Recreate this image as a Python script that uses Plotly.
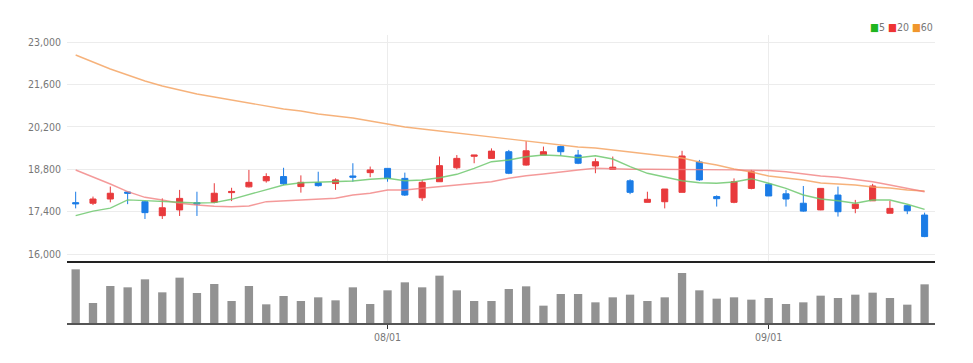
import plotly.graph_objects as go
import datetime as dt

# ---- data ----
start = dt.date(2023, 7, 6)
holidays = {dt.date(2023, 8, 15)}
dates = []
d = start
while len(dates) < 50:
    if d.weekday() < 5 and d not in holidays:
        dates.append(d.strftime("%m/%d"))
    d += dt.timedelta(days=1)

opens = [17700, 17680, 17820, 18050, 17730, 17270, 17460, 17700, 17710, 18030,
         18220, 18420, 18560, 18230, 18360, 18330, 18580, 18690, 18830, 18500,
         17860, 18390, 18850, 19230, 19160, 19380, 18940, 19270, 19550, 19270,
         18910, 18800, 18420, 17710, 17730, 18040, 19040, 17900, 17710, 18170,
         18310, 17990, 17680, 17460, 17950, 17510, 17760, 17350, 17600, 17290]
highs = [18060, 17900, 18230, 18060, 17760, 17840, 18120, 18060, 18340, 18190,
         18780, 18670, 18850, 18600, 18720, 18500, 19000, 18890, 18830, 18690,
         18450, 19220, 19270, 19270, 19490, 19440, 19730, 19550, 19580, 19440,
         19160, 19220, 18470, 18060, 18150, 19410, 19110, 17940, 18500, 18780,
         18340, 18120, 18250, 18180, 18230, 17790, 18320, 17760, 17620, 17370]
lows = [17510, 17620, 17710, 17650, 17160, 17160, 17260, 17260, 17680, 17750,
        18200, 18360, 18280, 18030, 18230, 18120, 18390, 18540, 18390, 17920,
        17760, 18390, 18800, 19000, 19160, 18640, 18920, 19270, 19250, 18970,
        18670, 18800, 17980, 17710, 17510, 18040, 18420, 17570, 17680, 18140,
        17920, 17570, 17400, 17450, 17240, 17350, 17760, 17350, 17320, 16560]
closes = [17660, 17820, 18010, 18010, 17370, 17530, 17840, 17655, 18010, 18070,
          18370, 18560, 18320, 18370, 18260, 18450, 18540, 18780, 18500, 17950,
          18370, 18920, 19160, 19270, 19400, 18670, 19410, 19380, 19380, 19000,
          19050, 18870, 18040, 17810, 18150, 19240, 18450, 17830, 18390, 18720,
          17920, 17820, 17420, 18170, 17400, 17650, 18250, 17510, 17430, 16580]

ma5 = [17269, 17420, 17520, 17790, 17767, 17731, 17711, 17690, 17700, 17810,
       17975, 18117, 18282, 18358, 18371, 18391, 18414, 18470, 18503, 18424,
       18447, 18523, 18635, 18833, 19051, 19107, 19216, 19272, 19249, 19183,
       19249, 19140, 18886, 18668, 18536, 18424, 18358, 18338, 18381, 18490,
       18338, 18173, 17952, 17820, 17764, 17678, 17787, 17787, 17645, 17480]
ma20 = [18777, 18556, 18315, 18061, 17876, 17787, 17678, 17622, 17580, 17566,
        17589, 17731, 17764, 17787, 17810, 17843, 17952, 18008, 18117, 18117,
        18173, 18226, 18282, 18338, 18391, 18503, 18589, 18645, 18721, 18777,
        18833, 18810, 18800, 18800, 18800, 18800, 18800, 18790, 18780, 18770,
        18760, 18721, 18645, 18579, 18536, 18470, 18391, 18282, 18173, 18061]
ma60 = [22572, 22341, 22110, 21912, 21714, 21549, 21417, 21285, 21186, 21087,
        20988, 20889, 20790, 20724, 20625, 20559, 20493, 20394, 20295, 20196,
        20130, 20064, 19998, 19932, 19866, 19800, 19734, 19668, 19602, 19536,
        19503, 19437, 19371, 19305, 19239, 19173, 19041, 18942, 18810, 18711,
        18579, 18513, 18447, 18348, 18315, 18282, 18216, 18183, 18117, 18084]

volumes = [1610000, 600000, 1110000, 1070000, 1310000, 920000, 1360000, 900000, 1170000, 660000,
           1110000, 560000, 810000, 660000, 770000, 680000, 1070000, 570000, 980000, 1220000,
           1070000, 1420000, 980000, 660000, 660000, 1020000, 1100000, 520000, 870000, 870000,
           620000, 770000, 850000, 660000, 770000, 1500000, 980000, 730000, 770000, 700000,
           750000, 570000, 620000, 820000, 750000, 850000, 910000, 750000, 550000, 1160000]

price_ticks = [16000, 17400, 18800, 20200, 21600, 23000]
x_ticks = ["08/01", "09/01"]

# ---- figure ----
FONT = "Liberation Sans Narrow, DejaVu Sans Condensed, Roboto, sans-serif"
fig = go.Figure()

fig.add_trace(go.Scatter(x=dates, y=ma60, mode="lines", line=dict(color="rgba(245,165,100,0.85)", width=1.4),
                         xaxis="x", yaxis="y", hoverinfo="skip"))
fig.add_trace(go.Scatter(x=dates, y=ma20, mode="lines", line=dict(color="rgba(240,120,120,0.75)", width=1.4),
                         xaxis="x", yaxis="y", hoverinfo="skip"))
fig.add_trace(go.Scatter(x=dates, y=ma5, mode="lines", line=dict(color="rgba(110,200,110,0.85)", width=1.4),
                         xaxis="x", yaxis="y", hoverinfo="skip"))

fig.add_trace(go.Candlestick(
    x=dates, open=opens, high=highs, low=lows, close=closes,
    increasing=dict(line=dict(color="#e83a3c", width=1), fillcolor="#e83a3c"),
    decreasing=dict(line=dict(color="#1b7ce6", width=1), fillcolor="#1b7ce6"),
    whiskerwidth=0, xaxis="x", yaxis="y"))

fig.add_trace(go.Bar(x=dates, y=volumes, marker=dict(color="#929292", line=dict(width=0)),
                     width=0.48, xaxis="x2", yaxis="y2"))

xr = [-0.5, 49.6]
fig.update_layout(
    width=973, height=363,
    margin=dict(l=67, r=38, t=35, b=40),
    paper_bgcolor="white", plot_bgcolor="white",
    showlegend=False,
    boxgap=0.5,
    font=dict(family=FONT, size=10, color="#777"),
    xaxis=dict(type="category", categoryorder="array", categoryarray=dates, range=xr,
               anchor="y", tickvals=x_ticks, showticklabels=False, ticks="",
               showgrid=True, gridcolor="#ececec", gridwidth=1,
               showline=True, linecolor="#222", linewidth=1.5,
               rangeslider=dict(visible=False), zeroline=False),
    yaxis=dict(domain=[0.2153, 1], range=[15774, 23232], tickvals=price_ticks,
               tickformat=",d", showgrid=True, gridcolor="#ececec", gridwidth=1,
               ticks="", ticklabelstandoff=5, zeroline=False, showline=False,
               tickfont=dict(family=FONT, size=10.5, color="#777")),
    xaxis2=dict(type="category", categoryorder="array", categoryarray=dates, range=xr,
                anchor="y2", tickvals=x_ticks, ticktext=x_ticks, ticks="outside",
                ticklen=4, tickcolor="#333", showgrid=False, showline=True,
                linecolor="#555", linewidth=1.5, zeroline=False,
                tickfont=dict(family=FONT, size=10.5, color="#777")),
    yaxis2=dict(domain=[0, 0.2049], range=[0, 1770000], showticklabels=False,
                showgrid=False, zeroline=False, ticks="", showline=False),
)

fig.add_annotation(
    xref="paper", yref="paper", x=1.0, y=1.028, xanchor="right", yanchor="middle",
    showarrow=False,
    text='<span style="color:#1fb51f">■</span>5 <span style="color:#ee3333">■</span>20 '
         '<span style="color:#f0962d">■</span>60',
    font=dict(family=FONT, size=10.5, color="#777"))

fig.write_html("out.html", config={"displayModeBar": False},
               post_script="document.body.style.margin='0';")
